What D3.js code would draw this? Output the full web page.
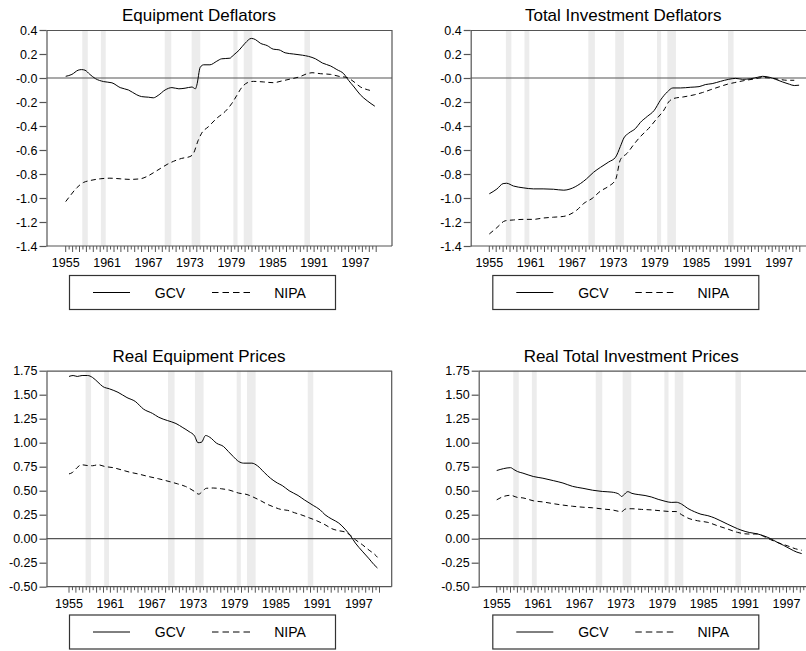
<!DOCTYPE html>
<html>
<head>
<meta charset="utf-8">
<script src="https://cdn.jsdelivr.net/npm/d3@7"></script>
<style>
  body { margin: 0; background: #fff; }
  svg { display: block; }
  text { font-family: "Liberation Sans", Arial, Helvetica, sans-serif; fill: #000; }
</style>
</head>
<body>
<svg id="chart" width="806" height="651"></svg>
<script>
// ---- Data -----------------------------------------------------------------
// Recession periods (shaded bands), decimal years
const recessions = [
  [1957.4, 1958.2], [1960.1, 1960.8], [1969.35, 1970.3], [1973.25, 1974.5],
  [1979.3, 1979.9], [1980.8, 1982.05], [1989.6, 1990.4]
];

const yearLabels = [1955, 1961, 1967, 1973, 1979, 1985, 1991, 1997];
const seriesNames = ["GCV", "NIPA"];

const deflatorTicks = [0.4, 0.2, 0, -0.2, -0.4, -0.6, -0.8, -1.0, -1.2, -1.4];
const deflatorTickLabels = ["0.4", "0.2", "-0.0", "-0.2", "-0.4", "-0.6", "-0.8", "-1.0", "-1.2", "-1.4"];
const priceTicks = [1.75, 1.5, 1.25, 1.0, 0.75, 0.5, 0.25, 0, -0.25, -0.5];
const priceTickLabels = ["1.75", "1.50", "1.25", "1.00", "0.75", "0.50", "0.25", "0.00", "-0.25", "-0.50"];

// Equipment deflators: [year, log difference]
const equipGCV = [
  [1955.0, 0.014], [1955.9, 0.03], [1956.8, 0.065], [1957.3, 0.07], [1957.8, 0.065],
  [1958.5, 0.03], [1959.3, -0.005], [1960.5, -0.03], [1961.7, -0.04], [1962.9, -0.08],
  [1964.1, -0.1], [1965.3, -0.14], [1966.0, -0.155], [1967.0, -0.16], [1967.7, -0.165],
  [1968.4, -0.145], [1969.4, -0.1], [1970.4, -0.08], [1971.4, -0.09], [1972.3, -0.085],
  [1973.3, -0.075], [1973.8, -0.09], [1974.0, -0.06], [1974.5, 0.09], [1975.0, 0.11],
  [1975.9, 0.11], [1976.9, 0.14], [1977.6, 0.16], [1978.8, 0.165], [1979.3, 0.19],
  [1980.1, 0.23], [1981.0, 0.29], [1981.9, 0.33], [1982.5, 0.32], [1983.2, 0.29],
  [1984.2, 0.27], [1985.1, 0.24], [1985.9, 0.235], [1986.8, 0.21], [1988.0, 0.2],
  [1989.3, 0.19], [1990.2, 0.18], [1991.2, 0.16], [1992.2, 0.125], [1993.4, 0.1],
  [1994.3, 0.07], [1995.3, 0.035], [1996.0, -0.02], [1996.8, -0.075], [1997.7, -0.14],
  [1998.7, -0.19], [1999.8, -0.235]
];
const equipNIPA = [
  [1955.0, -1.03], [1955.6, -0.985], [1956.6, -0.915], [1957.6, -0.87], [1958.5, -0.855],
  [1960.0, -0.84], [1961.4, -0.835], [1962.9, -0.84], [1964.3, -0.845], [1965.8, -0.84],
  [1966.8, -0.82], [1967.7, -0.79], [1968.7, -0.755], [1969.7, -0.72], [1970.6, -0.695],
  [1971.8, -0.67], [1973.0, -0.655], [1973.5, -0.63], [1974.2, -0.52], [1974.7, -0.46],
  [1975.7, -0.405], [1976.9, -0.335], [1978.1, -0.28], [1979.1, -0.21], [1979.8, -0.145],
  [1980.5, -0.08], [1981.3, -0.04], [1982.2, -0.028], [1983.7, -0.033], [1985.1, -0.039],
  [1986.3, -0.025], [1987.6, -0.008], [1988.8, 0.008], [1990.0, 0.036], [1990.7, 0.044],
  [1991.9, 0.036], [1993.4, 0.03], [1994.6, 0.014], [1995.8, 0.003], [1996.8, -0.033],
  [1997.7, -0.074], [1998.7, -0.097], [1999.4, -0.107]
];

// Total investment deflators
const totalGCV = [
  [1955.0, -0.965], [1956.1, -0.925], [1957.0, -0.88], [1957.5, -0.877], [1958.5, -0.9],
  [1959.9, -0.915], [1961.4, -0.924], [1962.8, -0.924], [1964.3, -0.927], [1965.8, -0.935],
  [1966.7, -0.925], [1968.2, -0.88], [1969.1, -0.84], [1970.1, -0.786], [1971.1, -0.745],
  [1972.3, -0.7], [1973.3, -0.66], [1974.0, -0.57], [1974.5, -0.5], [1975.2, -0.46],
  [1976.2, -0.42], [1976.9, -0.37], [1977.9, -0.32], [1978.9, -0.27], [1979.8, -0.185],
  [1980.8, -0.116], [1981.6, -0.083], [1982.7, -0.083], [1984.2, -0.077], [1985.4, -0.072],
  [1986.3, -0.055], [1987.3, -0.047], [1988.5, -0.028], [1989.7, -0.011], [1990.7, -0.003],
  [1991.7, -0.011], [1992.9, -0.006], [1993.9, 0.006], [1994.6, 0.014], [1995.6, 0.006],
  [1996.5, -0.011], [1997.5, -0.033], [1998.5, -0.052], [1999.2, -0.063], [1999.9, -0.06]
];
const totalNIPA = [
  [1955.0, -1.3], [1956.1, -1.247], [1957.3, -1.19], [1958.5, -1.183], [1959.9, -1.178],
  [1961.4, -1.178], [1962.8, -1.167], [1964.3, -1.16], [1965.8, -1.153], [1966.7, -1.136],
  [1967.7, -1.1], [1968.7, -1.045], [1969.9, -1.004], [1971.1, -0.943], [1972.3, -0.902],
  [1973.3, -0.847], [1974.0, -0.681], [1975.0, -0.626], [1975.9, -0.557], [1976.9, -0.488],
  [1978.1, -0.42], [1979.3, -0.337], [1980.3, -0.268], [1981.0, -0.199], [1981.7, -0.171],
  [1983.2, -0.157], [1984.7, -0.14], [1985.9, -0.121], [1987.1, -0.097], [1988.3, -0.074],
  [1989.5, -0.052], [1990.5, -0.039], [1991.9, -0.022], [1993.4, -0.008], [1994.6, 0.003],
  [1995.8, 0.0], [1997.0, -0.011], [1998.2, -0.019], [1999.2, -0.019]
];

// Real equipment prices
const realEquipGCV = [
  [1955.0, 1.69], [1955.6, 1.70], [1956.2, 1.69], [1956.9, 1.70], [1957.7, 1.70],
  [1958.4, 1.68], [1959.2, 1.63], [1959.9, 1.585], [1960.9, 1.56], [1962.1, 1.525],
  [1963.4, 1.47], [1964.6, 1.43], [1965.8, 1.35], [1967.1, 1.305], [1968.0, 1.265],
  [1969.3, 1.23], [1970.5, 1.2], [1971.5, 1.157], [1972.4, 1.116], [1973.2, 1.07],
  [1973.7, 1.0], [1974.2, 1.005], [1974.8, 1.075], [1975.4, 1.057], [1976.4, 0.994],
  [1977.4, 0.96], [1978.1, 0.908], [1978.8, 0.856], [1979.6, 0.804], [1980.3, 0.787],
  [1981.5, 0.787], [1982.3, 0.76], [1983.3, 0.69], [1984.2, 0.63], [1985.2, 0.58],
  [1985.9, 0.554], [1986.9, 0.5], [1988.2, 0.45], [1989.1, 0.405], [1990.4, 0.346],
  [1991.4, 0.3], [1992.1, 0.25], [1993.1, 0.204], [1994.1, 0.163], [1995.0, 0.1],
  [1995.8, 0.03], [1996.5, -0.045], [1997.5, -0.13], [1998.5, -0.21], [1999.2, -0.27],
  [1999.7, -0.305]
];
const realEquipNIPA = [
  [1955.0, 0.675], [1955.5, 0.69], [1956.1, 0.735], [1956.8, 0.77], [1957.7, 0.762],
  [1958.4, 0.76], [1959.2, 0.77], [1960.2, 0.752], [1961.4, 0.74], [1962.6, 0.717],
  [1963.8, 0.693], [1965.0, 0.675], [1966.5, 0.648], [1968.0, 0.624], [1969.5, 0.596],
  [1970.7, 0.572], [1971.9, 0.544], [1973.2, 0.492], [1973.8, 0.464], [1974.3, 0.49],
  [1974.9, 0.525], [1975.9, 0.528], [1977.1, 0.52], [1978.3, 0.505], [1979.6, 0.475],
  [1980.8, 0.46], [1981.8, 0.43], [1982.8, 0.395], [1983.7, 0.36], [1984.7, 0.33],
  [1985.7, 0.305], [1986.7, 0.295], [1987.7, 0.27], [1988.6, 0.25], [1989.9, 0.215],
  [1990.8, 0.19], [1992.1, 0.146], [1993.1, 0.104], [1994.1, 0.083], [1995.0, 0.07],
  [1995.8, 0.035], [1996.5, -0.01], [1997.5, -0.062], [1998.5, -0.12], [1999.5, -0.177],
  [1999.7, -0.194]
];

// Real total investment prices
const realTotalGCV = [
  [1955.0, 0.71], [1956.0, 0.73], [1957.0, 0.74], [1957.5, 0.72], [1958.0, 0.70],
  [1958.8, 0.683], [1960.3, 0.648], [1961.7, 0.63], [1963.2, 0.605], [1964.6, 0.58],
  [1966.0, 0.545], [1967.5, 0.525], [1968.9, 0.505], [1970.3, 0.492], [1971.7, 0.485],
  [1972.7, 0.465], [1973.1, 0.44], [1973.4, 0.455], [1974.0, 0.49], [1974.6, 0.472],
  [1975.5, 0.46], [1976.5, 0.45], [1977.4, 0.435], [1978.4, 0.41], [1979.4, 0.39],
  [1980.3, 0.378], [1981.0, 0.38], [1981.8, 0.36], [1982.7, 0.315], [1983.7, 0.28],
  [1984.6, 0.255], [1985.6, 0.24], [1986.6, 0.215], [1987.5, 0.185], [1988.5, 0.15],
  [1989.4, 0.12], [1990.4, 0.09], [1991.6, 0.065], [1992.8, 0.05], [1993.7, 0.03],
  [1994.7, 0.0], [1995.6, -0.035], [1996.6, -0.07], [1997.5, -0.105], [1998.5, -0.14],
  [1999.2, -0.155]
];
const realTotalNIPA = [
  [1955.0, 0.405], [1956.0, 0.44], [1957.0, 0.452], [1958.0, 0.43], [1958.8, 0.425],
  [1960.3, 0.395], [1961.7, 0.383], [1963.2, 0.365], [1964.6, 0.35], [1966.0, 0.338],
  [1967.5, 0.328], [1968.9, 0.322], [1970.3, 0.31], [1971.7, 0.3], [1973.1, 0.282],
  [1973.7, 0.31], [1974.6, 0.312], [1976.0, 0.305], [1977.4, 0.3], [1978.9, 0.29],
  [1980.3, 0.283], [1981.0, 0.283], [1981.8, 0.25], [1982.7, 0.215], [1984.1, 0.187],
  [1985.6, 0.17], [1987.0, 0.135], [1988.5, 0.1], [1989.9, 0.066], [1991.4, 0.049],
  [1992.8, 0.049], [1993.7, 0.024], [1994.7, -0.01], [1995.9, -0.045], [1997.1, -0.073],
  [1998.3, -0.105], [1999.2, -0.12]
];

// ---- Layout ---------------------------------------------------------------
const panels = [
  { title: "Equipment Deflators", left: 46.5, top: 30, right: 392, x1955: 65.7,
    domain: [-1.4, 0.4], ticks: deflatorTicks, labels: deflatorTickLabels,
    gcv: equipGCV, nipa: equipNIPA, legendX: 69, legendY: 275 },
  { title: "Total Investment Deflators", left: 470.7, top: 30, right: 817, x1955: 489.3,
    domain: [-1.4, 0.4], ticks: deflatorTicks, labels: deflatorTickLabels,
    gcv: totalGCV, nipa: totalNIPA, legendX: 492.3, legendY: 275 },
  { title: "Real Equipment Prices", left: 46.5, top: 370.7, right: 391.7, x1955: 69,
    domain: [-0.5, 1.75], ticks: priceTicks, labels: priceTickLabels,
    gcv: realEquipGCV, nipa: realEquipNIPA, legendX: 69, legendY: 614.5 },
  { title: "Real Total Investment Prices", left: 478.7, top: 370.7, right: 825, x1955: 496.7,
    domain: [-0.5, 1.75], ticks: priceTicks, labels: priceTickLabels,
    gcv: realTotalGCV, nipa: realTotalNIPA, legendX: 492.3, legendY: 614.5 }
];

const PLOT_H = 216;
const PX_PER_YEAR = 6.9;
const axisColor = "#555";

const svg = d3.select("#chart");

panels.forEach(p => {
  const g = svg.append("g");
  const x = d3.scaleLinear()
    .domain([1955, 1997])
    .range([p.x1955, p.x1955 + 42 * PX_PER_YEAR]);
  const y = d3.scaleLinear().domain(p.domain).range([p.top + PLOT_H, p.top]);
  const bottom = p.top + PLOT_H;

  // recession shading
  g.selectAll("rect.rec").data(recessions).join("rect")
    .attr("x", d => x(d[0]))
    .attr("width", d => x(d[1]) - x(d[0]))
    .attr("y", p.top)
    .attr("height", PLOT_H)
    .attr("fill", "#ececec");

  // frame: top, right and zero line
  g.append("line").attr("x1", p.left).attr("x2", p.right)
    .attr("y1", p.top + 0.5).attr("y2", p.top + 0.5)
    .attr("stroke", axisColor).attr("stroke-width", 1.2);
  g.append("line").attr("x1", p.right).attr("x2", p.right)
    .attr("y1", p.top).attr("y2", bottom)
    .attr("stroke", axisColor).attr("stroke-width", 1.2);
  g.append("line").attr("x1", p.left).attr("x2", p.right)
    .attr("y1", y(0)).attr("y2", y(0))
    .attr("stroke", axisColor).attr("stroke-width", 1.2);

  // left axis
  const yAxis = d3.axisLeft(y)
    .tickValues(p.ticks)
    .tickFormat((d, i) => p.labels[i])
    .tickSize(7)
    .tickSizeOuter(0)
    .tickPadding(2);
  const ya = g.append("g").attr("transform", `translate(${p.left},0)`).call(yAxis);
  ya.select(".domain").attr("stroke", axisColor).attr("stroke-width", 1.2);
  ya.selectAll(".tick line").attr("stroke", axisColor).attr("stroke-width", 1.2);
  ya.selectAll("text").attr("font-size", 12.5).attr("fill", "#000");

  // bottom axis: year ticks and half-year ticks
  const yearTicks = d3.range(1955, 2000.01, 1);
  const halfTicks = d3.range(1955.5, 2000, 1);
  g.append("line").attr("x1", p.left).attr("x2", p.right)
    .attr("y1", bottom).attr("y2", bottom)
    .attr("stroke", axisColor).attr("stroke-width", 1.2);
  g.selectAll("line.yt").data(yearTicks).join("line")
    .attr("x1", d => x(d)).attr("x2", d => x(d))
    .attr("y1", bottom).attr("y2", bottom + 6)
    .attr("stroke", axisColor).attr("stroke-width", 1);
  g.selectAll("line.ht").data(halfTicks).join("line")
    .attr("x1", d => x(d)).attr("x2", d => x(d))
    .attr("y1", bottom).attr("y2", bottom + 3.5)
    .attr("stroke", axisColor).attr("stroke-width", 1);
  g.selectAll("text.yl").data(yearLabels).join("text")
    .attr("x", d => x(d)).attr("y", bottom + 21)
    .attr("text-anchor", "middle").attr("font-size", 12.5)
    .text(d => d);

  // series
  const line = d3.line().x(d => x(d[0])).y(d => y(d[1])).curve(d3.curveMonotoneX);
  g.append("path").datum(p.gcv).attr("d", line)
    .attr("fill", "none").attr("stroke", "#000").attr("stroke-width", 1);
  g.append("path").datum(p.nipa).attr("d", line)
    .attr("fill", "none").attr("stroke", "#000").attr("stroke-width", 1)
    .attr("stroke-dasharray", "5,3.5");

  // title
  g.append("text").attr("x", p.left + 152.5).attr("y", p.top - 9)
    .attr("text-anchor", "middle").attr("font-size", 17).text(p.title);

  // legend
  const lw = 266, lh = 34;
  const lg = g.append("g").attr("transform", `translate(${p.legendX},${p.legendY})`);
  lg.append("rect").attr("x", 0.5).attr("y", 0.5).attr("width", lw).attr("height", lh)
    .attr("fill", "none").attr("stroke", "#333").attr("stroke-width", 1.2);
  const ly = lh / 2 + 0.5;
  lg.append("line").attr("x1", 24).attr("x2", 61).attr("y1", ly).attr("y2", ly)
    .attr("stroke", "#000").attr("stroke-width", 1);
  lg.append("text").attr("x", 101).attr("y", ly + 5).attr("text-anchor", "middle")
    .attr("font-size", 14).text(seriesNames[0]);
  lg.append("line").attr("x1", 143).attr("x2", 181).attr("y1", ly).attr("y2", ly)
    .attr("stroke", "#000").attr("stroke-width", 1).attr("stroke-dasharray", "6.5,4");
  lg.append("text").attr("x", 221).attr("y", ly + 5).attr("text-anchor", "middle")
    .attr("font-size", 14).text(seriesNames[1]);
});
</script>
</body>
</html>
